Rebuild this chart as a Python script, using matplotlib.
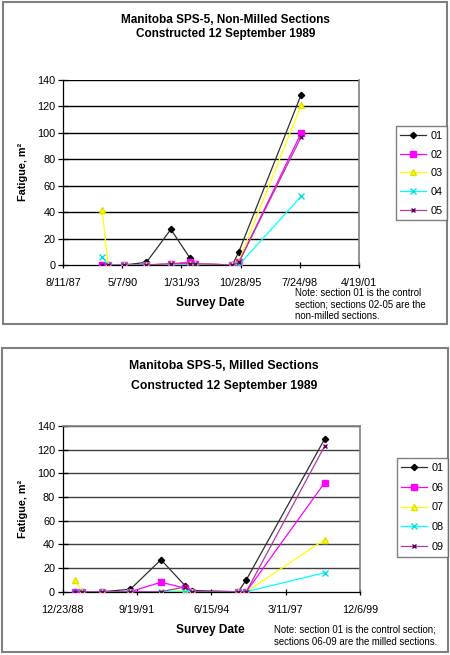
import matplotlib
matplotlib.use("Agg")
import matplotlib.pyplot as plt
from matplotlib.patches import Rectangle
import pandas as pd

plt.rcParams['font.family'] = ['Liberation Sans', 'DejaVu Sans']

# ---------------- data ----------------
survey_dates = ['1989-06-01', '1989-09-12', '1990-06-06', '1991-06-20', '1992-08-06',
                '1993-06-28', '1993-09-22', '1995-06-12', '1995-09-28', '1998-08-17']

# Non-milled sections (top chart)
s01 = [0, 0, 0, 2, 27, 5, 1, 0, 10, 129]
s02 = [0, 0, 0, 0, 1, 2, 1, 0, 2, 100]
s03 = [42, 0, 0, 0, 1, 1, 1, 0, 3, 121]
s04 = [6, 0, 0, 0, 0, 0, 0, 0, 0, 52]
s05 = [0, 0, 0, 0, 1, 1, 1, 0, 2, 97]

# Milled sections (bottom chart)
s06 = [0, 0, 0, 0, 8, 3, 0, 0, 0, 92]
s07 = [10, 0, 0, 0, 0, 1, 0, 0, 0, 44]
s08 = [0, 0, 0, 0, 0, 0, 0, 0, 0, 16]
s09 = [0, 0, 0, 0, 0, 4, 0, 0, 0, 123]

top_tick_dates = ['1987-08-11', '1990-05-07', '1993-01-31', '1995-10-28', '1998-07-24', '2001-04-19']
top_tick_labels = ['8/11/87', '5/7/90', '1/31/93', '10/28/95', '7/24/98', '4/19/01']
bot_tick_dates = ['1988-12-23', '1991-09-19', '1994-06-15', '1997-03-11', '1999-12-06']
bot_tick_labels = ['12/23/88', '9/19/91', '6/15/94', '3/11/97', '12/6/99']
y_ticks = [0, 20, 40, 60, 80, 100, 120, 140]

top_title = 'Manitoba SPS-5, Non-Milled Sections\nConstructed 12 September 1989'
bot_title = 'Manitoba SPS-5, Milled Sections\nConstructed 12 September 1989'
top_note = 'Note: section 01 is the control\nsection; sections 02-05 are the\nnon-milled sections.'
bot_note = 'Note: section 01 is the control section;\nsections 06-09 are the milled sections.'

# ---------------- styles ----------------
styles = {
    '01': dict(color='#303030', marker='D', ms=3.2, mfc='black', mec='black'),
    '02': dict(color='#FF00FF', marker='s', ms=4, mfc='#FF00FF', mec='#FF00FF'),
    '03': dict(color='#FFFF00', marker='^', ms=4.5, mfc='#FFFF00', mec='#E0E000'),
    '04': dict(color='#00FFFF', marker='x', ms=4, mfc='#00FFFF', mec='#00E0E0'),
    '05': dict(color='#B03AA0', marker='x', ms=3.5, mfc='#800080', mec='#600060'),
    '06': dict(color='#FF00FF', marker='s', ms=4, mfc='#FF00FF', mec='#FF00FF'),
    '07': dict(color='#FFFF00', marker='^', ms=4.5, mfc='#FFFF00', mec='#E0E000'),
    '08': dict(color='#00FFFF', marker='x', ms=4, mfc='#00FFFF', mec='#00E0E0'),
    '09': dict(color='#B03AA0', marker='x', ms=3.5, mfc='#800080', mec='#600060'),
}

W, H = 450, 655
fig = plt.figure(figsize=(W / 100, H / 100), dpi=100)
fig.patch.set_facecolor('white')

def fx(px):
    return px / W

def fy(py):
    return 1 - py / H

# outer boxes
fig.add_artist(Rectangle((fx(2.5), fy(324)), fx(444), 322 / H, transform=fig.transFigure,
                         fill=False, edgecolor='#808080', lw=1.5))
fig.add_artist(Rectangle((fx(2), fy(651.5)), fx(445.5), 303.5 / H, transform=fig.transFigure,
                         fill=False, edgecolor='#808080', lw=1.5))

dates = pd.to_datetime(survey_dates)

def setup_axes(ax, tick_dates, tick_labels, grid_color):
    td = pd.to_datetime(tick_dates)
    ax.set_xlim(td[0], td[-1])
    ax.set_ylim(0, 140)
    ax.set_xticks(td)
    ax.set_xticklabels(tick_labels)
    ax.set_yticks(y_ticks)
    ax.set_yticklabels([str(v) for v in y_ticks])
    for v in y_ticks[1:]:
        ax.axhline(v, color=grid_color, lw=1.0, zorder=0.5)
    ax.spines['top'].set_visible(False)
    ax.spines['right'].set_color('#808080')
    ax.spines['right'].set_linewidth(1.2)
    ax.spines['left'].set_color('black')
    ax.spines['bottom'].set_color('black')
    ax.spines['left'].set_linewidth(0.9)
    ax.spines['bottom'].set_linewidth(0.9)
    ax.tick_params(axis='y', direction='inout', length=7, width=0.9, pad=2, labelsize=7.8)
    ax.tick_params(axis='x', direction='inout', length=4.5, width=0.9, pad=7, labelsize=7.8)

def plot_series(ax, names, series):
    handles = []
    for n, vals in zip(names, series):
        st = styles[n]
        h, = ax.plot(dates, vals, color=st['color'], lw=0.9, marker=st['marker'],
                     ms=st['ms'], mfc=st['mfc'], mec=st['mec'], mew=1.0, label=n, zorder=3)
        handles.append(h)
    return handles

# ---------------- top chart ----------------
ax1 = fig.add_axes([fx(63), fy(265), (359 - 63) / W, (265 - 80) / H])
setup_axes(ax1, top_tick_dates, top_tick_labels, 'black')
h1 = plot_series(ax1, ['01', '02', '03', '04', '05'], [s01, s02, s03, s04, s05])
leg1 = fig.legend(handles=h1, loc='upper left', bbox_to_anchor=(fx(395.5), fy(126)),
                  fontsize=7.8, frameon=True, fancybox=False, edgecolor='#606060',
                  handlelength=2.4, handletextpad=0.35, labelspacing=0.8,
                  borderpad=0.45, borderaxespad=0)
leg1.get_frame().set_linewidth(1.0)

fig.text(fx(225.5), fy(27), top_title, ha='center', va='center', fontsize=8.5,
         fontweight='bold', linespacing=1.15)
fig.text(fx(23), fy(172), 'Fatigue, m²', rotation=90, ha='center', va='center',
         fontsize=7.8, fontweight='bold')
fig.text(fx(210), fy(302.5), 'Survey Date', ha='center', va='center', fontsize=8.6,
         fontweight='bold')
fig.text(fx(295), fy(288), top_note, ha='left', va='top', fontsize=6.9, linespacing=1.2)

# ---------------- bottom chart ----------------
ax2 = fig.add_axes([fx(62.7), fy(591.7), (360 - 62.7) / W, (591.7 - 426) / H])
setup_axes(ax2, bot_tick_dates, bot_tick_labels, '#404040')
ax2.spines['top'].set_visible(True)
ax2.spines['top'].set_color('#808080')
ax2.spines['top'].set_linewidth(1.2)
h2 = plot_series(ax2, ['01', '06', '07', '08', '09'], [s01, s06, s07, s08, s09])
leg2 = fig.legend(handles=h2, loc='upper left', bbox_to_anchor=(fx(396.5), fy(458)),
                  fontsize=7.8, frameon=True, fancybox=False, edgecolor='#606060',
                  handlelength=2.4, handletextpad=0.35, labelspacing=0.9,
                  borderpad=0.45, borderaxespad=0)
leg2.get_frame().set_linewidth(1.0)

fig.text(fx(224), fy(376), bot_title, ha='center', va='center', fontsize=8.8,
         fontweight='bold', linespacing=1.85)
fig.text(fx(23), fy(509), 'Fatigue, m²', rotation=90, ha='center', va='center',
         fontsize=7.8, fontweight='bold')
fig.text(fx(210), fy(630), 'Survey Date', ha='center', va='center', fontsize=8.6,
         fontweight='bold')
fig.text(fx(274), fy(625), bot_note, ha='left', va='top', fontsize=6.9, linespacing=1.2)

fig.savefig('out.png', dpi=100)
